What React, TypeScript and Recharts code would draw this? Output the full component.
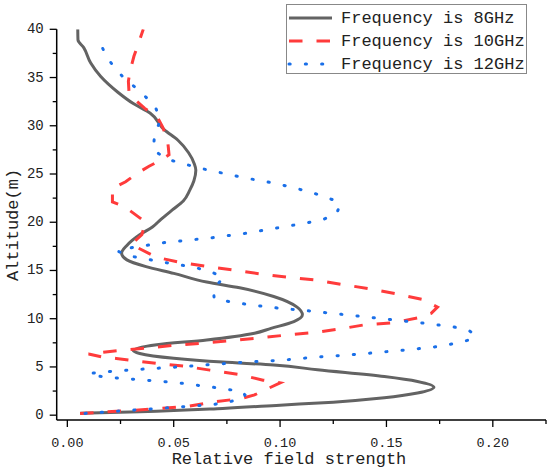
import { LineChart, Line, XAxis, YAxis, Label } from 'recharts';

// 8 GHz (grey, solid)
const alt8 = [0.2, 0.35, 0.7, 1.04, 1.35, 1.8, 2.3, 2.9, 3.5, 4.0, 4.7, 5.2, 5.5, 5.9, 6.4, 6.7, 7.3, 7.8, 8.5, 9.0, 9.7, 10.4, 11.2, 12.3, 13.2, 13.8, 14.7, 15.4, 16.1, 16.8, 17.6, 18.7, 19.5, 20.3, 21.3, 22.2, 23.3, 24.3, 25.4, 26.1, 27.2, 28.5, 29.6, 31.3, 32.3, 33.5, 35.1, 36.5, 38.1, 38.9, 40];
const field8 = [0.006, 0.034, 0.073, 0.1, 0.125, 0.149, 0.1646, 0.1723, 0.1646, 0.149, 0.1176, 0.097, 0.073, 0.05, 0.034, 0.031, 0.042, 0.0655, 0.088, 0.0957, 0.1065, 0.1105, 0.108, 0.097, 0.081, 0.0655, 0.05, 0.037, 0.028, 0.0255, 0.028, 0.034, 0.04, 0.044, 0.0495, 0.0545, 0.0575, 0.0595, 0.0604, 0.0596, 0.057, 0.052, 0.0455, 0.039, 0.031, 0.0236, 0.0157, 0.011, 0.0077, 0.005, 0.0049];

// 10 GHz (red, dashed)
const alt10 = [0.18, 0.34, 0.52, 0.7, 0.93, 1.38, 1.73, 2.1, 3.35, 3.63, 4.25, 4.67, 5.08, 5.36, 5.88, 6.05, 6.35, 6.55, 6.74, 7.0, 7.26, 7.5, 8.0, 8.3, 8.54, 8.92, 9.34, 9.57, 10.1, 10.55, 11.2, 12.0, 12.6, 13.1, 13.56, 14.0, 14.3, 14.6, 15.0, 15.4, 15.8, 16.36, 17.7, 18.7, 20.0, 21.6, 22.1, 23.5, 24.2, 25.1, 25.8, 26.45, 27.0, 27.7, 28.7, 29.9, 30.9, 31.8, 32.85, 33.4, 34.6, 35.6, 37.2, 40];
const field10 = [0.006, 0.0185, 0.032, 0.044, 0.057, 0.069, 0.082, 0.088, 0.1, 0.092, 0.08, 0.067, 0.055, 0.042, 0.023, 0.016, 0.01, 0.018, 0.026, 0.039, 0.051, 0.0655, 0.09, 0.1027, 0.115, 0.1276, 0.139, 0.153, 0.165, 0.171, 0.174, 0.167, 0.154, 0.142, 0.129, 0.117, 0.104, 0.092, 0.0796, 0.066, 0.054, 0.042, 0.03, 0.035, 0.0368, 0.027, 0.0212, 0.0212, 0.0274, 0.033, 0.0384, 0.044, 0.0478, 0.0475, 0.047, 0.0447, 0.0423, 0.0364, 0.031, 0.029, 0.0287, 0.0294, 0.0313, 0.0357];

// 12 GHz (blue, dotted)
const alt12 = [0.18, 0.52, 0.86, 1.1, 1.38, 1.73, 2.1, 2.46, 2.94, 3.35, 3.63, 3.87, 4.05, 4.33, 4.5, 4.74, 5.05, 5.3, 5.53, 5.7, 6.0, 6.22, 6.5, 6.8, 7.16, 7.5, 7.9, 8.3, 8.75, 9.16, 9.57, 10.1, 10.45, 10.8, 11.1, 11.5, 11.75, 12.1, 13.07, 14.3, 14.97, 15.35, 15.9, 16.5, 17.0, 17.4, 17.9, 18.4, 18.85, 19.4, 19.95, 20.3, 20.9, 21.8, 22.1, 22.7, 23.2, 24.0, 24.6, 25.3, 25.65, 26.1, 26.55, 27.5, 29.05, 30.5, 31.9, 33.0, 34.0, 35.1, 36.2, 37.5, 38.8];
const field12 = [0.0083, 0.0307, 0.0534, 0.0683, 0.0759, 0.083, 0.0835, 0.082, 0.067, 0.0522, 0.037, 0.0221, 0.0146, 0.0103, 0.0182, 0.033, 0.0558, 0.0706, 0.0859, 0.101, 0.1157, 0.131, 0.1458, 0.161, 0.176, 0.1834, 0.1908, 0.1915, 0.189, 0.1814, 0.1665, 0.144, 0.129, 0.114, 0.099, 0.084, 0.0765, 0.069, 0.0687, 0.0734, 0.0663, 0.059, 0.044, 0.0292, 0.0237, 0.031, 0.0459, 0.0683, 0.0836, 0.0985, 0.113, 0.1204, 0.1267, 0.128, 0.1275, 0.1204, 0.113, 0.0985, 0.0835, 0.0685, 0.0614, 0.054, 0.0466, 0.0404, 0.041, 0.0436, 0.0415, 0.0368, 0.0318, 0.026, 0.0215, 0.0176, 0.0152];

const xTicks = [0, 0.025, 0.05, 0.075, 0.1, 0.125, 0.15, 0.175, 0.2, 0.225];
const yTicks = [0, 2.5, 5, 7.5, 10, 12.5, 15, 17.5, 20, 22.5, 25, 27.5, 30, 32.5, 35, 37.5, 40];
const seriesNames = ['Frequency is 8GHz', 'Frequency is 10GHz', 'Frequency is 12GHz'];

const toRows = (alts: number[], vals: number[]) => alts.map((a, i) => ({ alt: a, v: vals[i] }));
const data8 = toRows(alt8, field8);
const data10 = toRows(alt10, field10);
const data12 = toRows(alt12, field12);

const FONT = '"Liberation Mono", monospace';
const GREY = '#636363';
const RED = '#ff3b3b';
const BLUE = '#1a6fe8';

const isMajor = (v: number, step: number) => Math.abs(v / step - Math.round(v / step)) < 1e-6;

const XTick = ({ x, y, payload }: any) => {
  const major = isMajor(payload.value, 0.05);
  return (
    <g>
      <line x1={x} x2={x} y1={y} y2={y + (major ? 7 : 4)} stroke="#000" strokeWidth={1.3} />
      {major && (
        <text x={x} y={y + 27} textAnchor="middle" fontFamily={FONT} fontSize={13.5} fill="#222">
          {payload.value.toFixed(2)}
        </text>
      )}
    </g>
  );
};

const YTick = ({ x, y, payload }: any) => {
  const major = isMajor(payload.value, 5);
  return (
    <g>
      <line x1={x} x2={x - (major ? 7 : 4)} y1={y} y2={y} stroke="#000" strokeWidth={1.3} />
      {major && (
        <text x={x - 13} y={y} textAnchor="end" dominantBaseline="central" fontFamily={FONT} fontSize={14} fill="#222">
          {payload.value}
        </text>
      )}
    </g>
  );
};

const swatches = [
  { color: GREY, dash: undefined, cap: 'butt' },
  { color: RED, dash: '13.5 14', cap: 'butt' },
  { color: BLUE, dash: '1.2 15.1', cap: 'round' },
];

export default function App() {
  return (
    <div style={{ position: 'absolute', left: 0, top: 0, width: 550, height: 470, background: '#fff' }}>
      <LineChart
        width={550}
        height={470}
        layout="vertical"
        margin={{ top: 29.3, right: 4, bottom: 0, left: 0 }}
      >
        <XAxis
          type="number"
          domain={[-0.005, 0.225]}
          ticks={xTicks}
          interval={0}
          allowDataOverflow
          height={50}
          tickSize={0}
          tickMargin={0}
          tickLine={false}
          axisLine={{ stroke: '#000', strokeWidth: 1.5 }}
          tick={<XTick />}
        >
          <Label
            content={() => (
              <text x={289} y={464} textAnchor="middle" fontFamily={FONT} fontSize={17} fill="#222">
                Relative field strength
              </text>
            )}
          />
        </XAxis>
        <YAxis
          type="number"
          dataKey="alt"
          domain={[-0.5, 40]}
          ticks={yTicks}
          interval={0}
          reversed
          allowDataOverflow
          width={56.7}
          tickSize={0}
          tickMargin={0}
          tickLine={false}
          axisLine={{ stroke: '#000', strokeWidth: 1.5 }}
          tick={<YTick />}
        >
          <Label
            content={() => (
              <text
                x={13}
                y={225}
                transform="rotate(-90 13 225)"
                textAnchor="middle"
                dominantBaseline="central"
                fontFamily={FONT}
                fontSize={17}
                fill="#222"
              >
                Altitude(m)
              </text>
            )}
          />
        </YAxis>
        <Line
          data={data8}
          dataKey="v"
          name={seriesNames[0]}
          type="monotone"
          stroke={GREY}
          strokeWidth={3}
          dot={false}
          activeDot={false}
          isAnimationActive={false}
        />
        <Line
          data={data10}
          dataKey="v"
          name={seriesNames[1]}
          type="linear"
          stroke={RED}
          strokeWidth={3}
          strokeDasharray="13.5 14"
          dot={false}
          activeDot={false}
          isAnimationActive={false}
        />
        <Line
          data={data12}
          dataKey="v"
          name={seriesNames[2]}
          type="linear"
          stroke={BLUE}
          strokeWidth={3}
          strokeDasharray="1.2 15.1"
          strokeLinecap="round"
          dot={false}
          activeDot={false}
          isAnimationActive={false}
        />
      </LineChart>
      <div
        style={{
          position: 'absolute',
          left: 286,
          top: 4,
          width: 239,
          height: 68,
          border: '1px solid #888',
          background: '#fff',
          fontFamily: FONT,
          fontSize: 17,
          color: '#222',
          boxSizing: 'content-box',
        }}
      >
        {seriesNames.map((name, i) => (
          <div key={name} style={{ position: 'absolute', left: 0, top: 2 + i * 23, height: 22, display: 'flex', alignItems: 'center', whiteSpace: 'nowrap' }}>
            <svg width={50} height={22} style={{ display: 'block' }}>
              <line
                x1={2}
                x2={45}
                y1={11}
                y2={11}
                stroke={swatches[i].color}
                strokeWidth={3}
                strokeDasharray={swatches[i].dash}
                strokeLinecap={swatches[i].cap as any}
              />
            </svg>
            <span style={{ marginLeft: 4 }}>{name}</span>
          </div>
        ))}
      </div>
    </div>
  );
}
